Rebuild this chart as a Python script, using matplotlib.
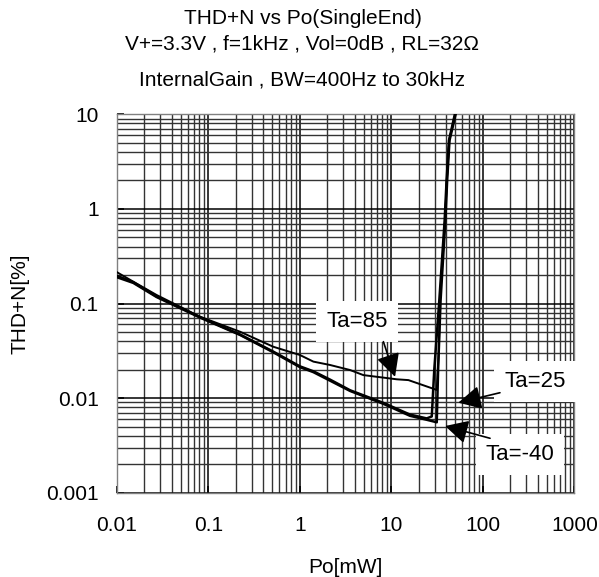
import numpy as np
import matplotlib
matplotlib.use("Agg")
import matplotlib.pyplot as plt
from matplotlib.ticker import LogLocator, NullFormatter, FixedLocator, FixedFormatter

plt.rcParams['font.family'] = ['Liberation Sans', 'DejaVu Sans']

# ---- data (Po in mW, THD+N in %) ----
po_85 = [0.01, 0.0152, 0.0273, 0.0813, 0.223, 0.514, 1.0, 1.41, 2.14, 3.55, 4.96, 11.5, 15.4, 31.4,
         33.0, 34.1, 38.7, 40.4, 42.9, 50.0, 55.0]
thd_85 = [0.215, 0.170, 0.123, 0.0725, 0.0503, 0.0349, 0.0286, 0.0243, 0.0224, 0.0198, 0.0175, 0.0158, 0.0155, 0.0122,
          0.03, 0.109, 0.76, 2.0, 5.3, 10.0, 14.0]

po_25 = [0.01, 0.0152, 0.0273, 0.0813, 0.223, 0.514, 1.0, 1.41, 2.14, 3.55, 8.2, 16.0, 24.4, 27.7,
         29.5, 33.5, 38.3, 40.2, 42.7, 49.5, 54.0]
thd_25 = [0.197, 0.168, 0.119, 0.072, 0.047, 0.031, 0.0217, 0.0192, 0.0157, 0.0121, 0.0089, 0.0067, 0.0061, 0.0064,
          0.02, 0.109, 0.76, 2.0, 5.3, 10.0, 14.0]

po_m40 = [0.01, 0.0152, 0.0273, 0.0813, 0.223, 0.514, 1.0, 1.41, 2.14, 3.55, 8.2, 16.0, 24.4, 31.4,
          32.5, 34.6, 39.0, 40.8, 43.3, 50.5, 55.0]
thd_m40 = [0.190, 0.165, 0.117, 0.071, 0.0465, 0.0305, 0.0213, 0.0188, 0.0153, 0.0119, 0.0087, 0.0065, 0.0059, 0.00555,
           0.02, 0.109, 0.76, 2.0, 5.3, 10.0, 14.0]

x_ticks = [0.01, 0.1, 1, 10, 100, 1000]
x_labels = ['0.01', '0.1', '1', '10', '100', '1000']
y_ticks = [0.001, 0.01, 0.1, 1, 10]
y_labels = ['0.001', '0.01', '0.1', '1', '10']

# label text, text position, arrow tail, arrow tip
labels = ['Ta=85', 'Ta=25', 'Ta=-40']
label_pos = [(4.23, 0.0649), (373, 0.0148), (255, 0.00256)]
arrow_tail = [(8.2, 0.0395), (154, 0.0114), (120, 0.00376)]
arrow_tip = [(11.0, 0.0168), (54, 0.00894), (38.7, 0.00507)]

fig = plt.figure(figsize=(5.99, 5.77), dpi=100)
ax = fig.add_axes([0.1948, 0.1461, 0.764, 0.6558])

ax.set_xscale('log')
ax.set_yscale('log')
ax.set_xlim(0.01, 1000)
ax.set_ylim(0.001, 10)

# dense log grid
ax.xaxis.set_minor_locator(LogLocator(base=10, subs=np.arange(2, 10)))
ax.yaxis.set_minor_locator(LogLocator(base=10, subs=np.arange(2, 10)))
ax.xaxis.set_minor_formatter(NullFormatter())
ax.yaxis.set_minor_formatter(NullFormatter())
ax.grid(True, which='major', color='black', linewidth=1.1)
ax.grid(True, which='minor', color='#333333', linewidth=1.0)
ax.set_axisbelow(True)

ax.xaxis.set_major_locator(FixedLocator(x_ticks))
ax.xaxis.set_major_formatter(FixedFormatter(x_labels))
ax.yaxis.set_major_locator(FixedLocator(y_ticks))
ax.yaxis.set_major_formatter(FixedFormatter(y_labels))
ax.tick_params(which='major', direction='in', length=5, width=1.2, labelsize=15, color='black')
ax.tick_params(axis='x', pad=17)
ax.tick_params(axis='y', pad=13)
ax.tick_params(which='minor', length=0)
for s in ax.spines.values():
    s.set_color('#808080')
    s.set_linewidth(1.0)

ax.plot(po_85, thd_85, color='black', linewidth=1.4, zorder=3)
ax.plot(po_25, thd_25, color='black', linewidth=1.8, zorder=3)
ax.plot(po_m40, thd_m40, color='black', linewidth=1.8, zorder=3)

for lab, pos, tail, tip in zip(labels, label_pos, arrow_tail, arrow_tip):
    ax.text(pos[0], pos[1], lab, fontsize=16, ha='center', va='center', zorder=4,
            bbox=dict(boxstyle='square,pad=0.45', facecolor='white', edgecolor='none'))
    ax.annotate('', xy=tip, xytext=tail, zorder=5,
                arrowprops=dict(arrowstyle='-|>,head_length=0.7,head_width=0.36',
                                mutation_scale=20, color='black', lw=1.2,
                                shrinkA=0, shrinkB=0))

ax.set_xlabel('Po[mW]', fontsize=15, labelpad=16)
ax.set_ylabel('THD+N[%]', fontsize=15, labelpad=12)

fig.text(0.505, 0.9688, 'THD+N vs Po(SingleEnd)', fontsize=15, ha='center', va='center')
fig.text(0.505, 0.9237, 'V+=3.3V , f=1kHz , Vol=0dB , RL=32Ω', fontsize=15, ha='center', va='center')
fig.text(0.505, 0.8614, 'InternalGain , BW=400Hz to 30kHz', fontsize=15, ha='center', va='center')

fig.savefig('out.png', dpi=100)
